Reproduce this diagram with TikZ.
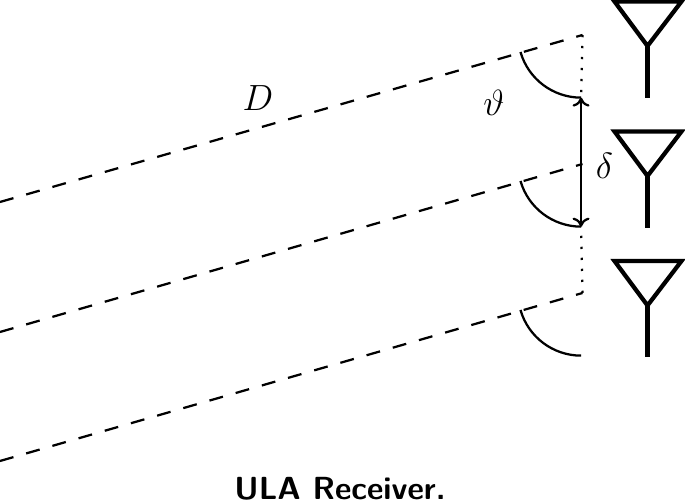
\documentclass[tikz,border=0pt]{standalone}
\usetikzlibrary{arrows.meta}
\tikzset{
  ray/.style={line width=0.045cm, dash pattern=on 0.28cm off 0.265cm},
  spacing/.style={line width=0.045cm, dash pattern=on 0.045cm off 0.175cm},
  anglearc/.style={line width=0.045cm},
  antenna/.style={line width=0.085cm, miter limit=10}
}
\begin{document}
\begin{tikzpicture}
    \useasboundingbox (0,0) rectangle (13.700000,10.080000);
    {\huge

    % Ends of the rays at the array
    \coordinate (E1) at (11.650000,9.380000);
    \coordinate (E2) at (11.650000,6.800000);
    \coordinate (E3) at (11.650000,4.220000);

    % Drawing rays
    \draw [ray] (0.000000,6.040000) -- (E1);%
    \draw [ray] (0.000000,3.440000) -- (E2);%
    \draw [ray] (0.000000,0.860000) -- (E3);%

    % Drawing angle arcs
    \draw [anglearc] (10.410000,9.040000) arc (196:270:1.260000) coordinate (A1);%
    \draw [anglearc] (10.410000,6.460000) arc (196:270:1.260000) coordinate (A2);%
    \draw [anglearc] (10.410000,3.880000) arc (196:270:1.260000);%

    % Drawing spacing line
    \draw [spacing] (E1) -- (A1);%
    \draw [spacing] (E3) -- (A2);%

    % Drawing element spacing
    \draw [anglearc, {To[length=0.18cm,width=0.34cm]}-{To[length=0.18cm,width=0.34cm]}] (A1) -- (A2);%

    % Drawing antenna 1
    \draw [antenna] (12.290000,10.050000) -- (13.630000,10.050000) -- (12.950000,9.160000) -- cycle;%
    \draw [antenna] (12.950000,9.160000) -- (12.950000,8.120000);%

    % Drawing antenna 2
    \draw [antenna] (12.290000,7.450000) -- (13.630000,7.450000) -- (12.950000,6.560000) -- cycle;%
    \draw [antenna] (12.950000,6.560000) -- (12.950000,5.520000);%

    % Drawing antenna 3
    \draw [antenna] (12.290000,4.860000) -- (13.630000,4.860000) -- (12.950000,3.970000) -- cycle;%
    \draw [antenna] (12.950000,3.970000) -- (12.950000,2.940000);%

    % Labels
    \node (Dlabel) at (5.160000,8.120000) {$D$};%
    \node (thetalabel) at (9.880000,8.020000) {$\vartheta$};%
    \node (deltalabel) at (12.090000,6.760000) {$\delta$};%
    \node (caption) at (6.800000,0.090000) [anchor=base, inner sep=0pt, font=\fontsize{18.2}{22}\selectfont\sffamily\bfseries] {ULA Receiver.};%
    }
\end{tikzpicture}
\end{document}
